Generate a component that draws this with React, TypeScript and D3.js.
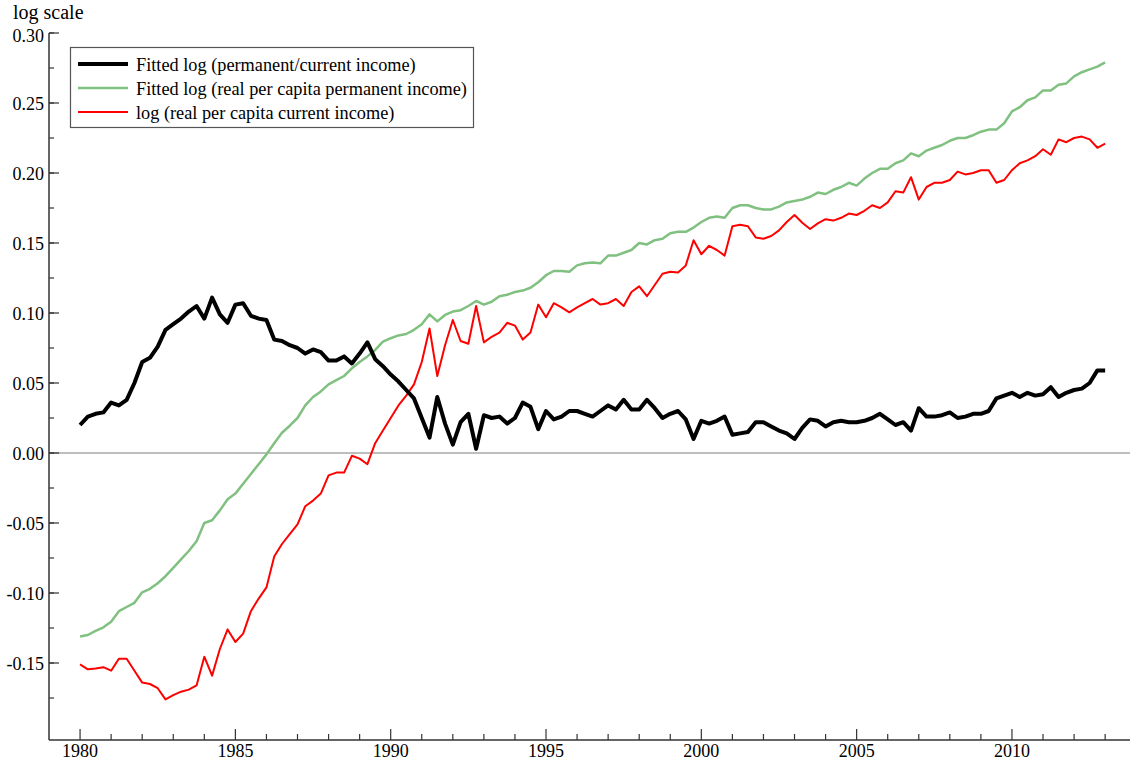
import { useEffect, useRef } from "react";
import * as d3 from "d3";

// quarterly, 1980Q1 .. 2013Q1
const startYear = 1980;

const permCurrent = [
  0.020, 0.026, 0.028, 0.029,
  0.036, 0.034, 0.038, 0.050,
  0.065, 0.068, 0.076, 0.088,
  0.092, 0.096, 0.101, 0.105,
  0.096, 0.111, 0.099, 0.093,
  0.106, 0.107, 0.098, 0.096,
  0.095, 0.081, 0.080, 0.077,
  0.075, 0.071, 0.074, 0.072,
  0.066, 0.066, 0.069, 0.064,
  0.071, 0.079, 0.067, 0.062,
  0.056, 0.051, 0.045, 0.039,
  0.025, 0.011, 0.040, 0.021,
  0.006, 0.022, 0.028, 0.003,
  0.027, 0.025, 0.026, 0.021,
  0.025, 0.036, 0.033, 0.017,
  0.030, 0.024, 0.026, 0.030,
  0.030, 0.028, 0.026, 0.030,
  0.034, 0.031, 0.038, 0.031,
  0.031, 0.038, 0.032, 0.025,
  0.028, 0.030, 0.024, 0.010,
  0.023, 0.021, 0.023, 0.026,
  0.013, 0.014, 0.015, 0.022,
  0.022, 0.019, 0.016, 0.014,
  0.010, 0.018, 0.024, 0.023,
  0.019, 0.022, 0.023, 0.022,
  0.022, 0.023, 0.025, 0.028,
  0.024, 0.020, 0.022, 0.016,
  0.032, 0.026, 0.026, 0.027,
  0.029, 0.025, 0.026, 0.028,
  0.028, 0.030, 0.039, 0.041,
  0.043, 0.040, 0.043, 0.041,
  0.042, 0.047, 0.040, 0.043,
  0.045, 0.046, 0.050, 0.059,
  0.059,
];

const permIncome = [
  -0.131, -0.130, -0.127, -0.1245,
  -0.1205, -0.113, -0.110, -0.107,
  -0.0995, -0.097, -0.093, -0.088,
  -0.082, -0.076, -0.070, -0.063,
  -0.050, -0.048, -0.041, -0.033,
  -0.029, -0.022, -0.015, -0.008,
  -0.001, 0.007, 0.0145, 0.0195,
  0.025, 0.034, 0.040, 0.044,
  0.049, 0.052, 0.055, 0.0605,
  0.065, 0.069, 0.0736, 0.0795,
  0.082, 0.084, 0.085, 0.088,
  0.092, 0.099, 0.094, 0.0986,
  0.101, 0.102, 0.105, 0.1086,
  0.106, 0.108, 0.112, 0.113,
  0.115, 0.116, 0.118, 0.122,
  0.127, 0.130, 0.130, 0.1295,
  0.134, 0.1355, 0.136, 0.1355,
  0.141, 0.141, 0.143, 0.145,
  0.150, 0.149, 0.152, 0.153,
  0.157, 0.158, 0.158, 0.161,
  0.165, 0.168, 0.169, 0.168,
  0.175, 0.177, 0.177, 0.175,
  0.174, 0.174, 0.176, 0.179,
  0.180, 0.181, 0.183, 0.186,
  0.185, 0.188, 0.190, 0.193,
  0.191, 0.196, 0.200, 0.203,
  0.203, 0.207, 0.209, 0.214,
  0.212, 0.216, 0.218, 0.220,
  0.223, 0.225, 0.225, 0.227,
  0.2295, 0.231, 0.231, 0.2355,
  0.244, 0.247, 0.252, 0.254,
  0.259, 0.259, 0.263, 0.264,
  0.269, 0.272, 0.274, 0.276,
  0.279,
];

const currentIncome = [
  -0.151, -0.1545, -0.154, -0.153,
  -0.1555, -0.147, -0.147, -0.1555,
  -0.164, -0.165, -0.168, -0.176,
  -0.173, -0.1705, -0.169, -0.166,
  -0.1455, -0.159, -0.140, -0.126,
  -0.135, -0.129, -0.113, -0.104,
  -0.096, -0.074, -0.065, -0.058,
  -0.051, -0.038, -0.034, -0.029,
  -0.016, -0.014, -0.014, -0.002,
  -0.004, -0.008, 0.007, 0.016,
  0.025, 0.034, 0.041, 0.049,
  0.065, 0.089, 0.055, 0.077,
  0.095, 0.080, 0.078, 0.105,
  0.079, 0.083, 0.086, 0.093,
  0.091, 0.081, 0.086, 0.106,
  0.097, 0.107, 0.104, 0.1005,
  0.104, 0.107, 0.110, 0.106,
  0.107, 0.110, 0.105, 0.115,
  0.119, 0.112, 0.120, 0.128,
  0.1295, 0.129, 0.134, 0.152,
  0.142, 0.148, 0.145, 0.141,
  0.162, 0.163, 0.162, 0.154,
  0.153, 0.155, 0.159, 0.165,
  0.170, 0.1645, 0.160, 0.164,
  0.167, 0.166, 0.168, 0.171,
  0.170, 0.173, 0.177, 0.175,
  0.179, 0.187, 0.186, 0.197,
  0.181, 0.190, 0.193, 0.193,
  0.195, 0.201, 0.199, 0.200,
  0.202, 0.202, 0.193, 0.195,
  0.202, 0.207, 0.209, 0.212,
  0.217, 0.213, 0.224, 0.222,
  0.225, 0.226, 0.224, 0.218,
  0.221,
];

const yTickValues = [-0.15, -0.1, -0.05, 0, 0.05, 0.1, 0.15, 0.2, 0.25, 0.3];
const xTickYears = [1980, 1985, 1990, 1995, 2000, 2005, 2010];

const seriesList = [
  { name: "Fitted log (permanent/current income)", values: permCurrent, color: "#000000", width: 4 },
  { name: "Fitted log (real per capita permanent income)", values: permIncome, color: "#80c080", width: 2.5 },
  { name: "log (real per capita current income)", values: currentIncome, color: "#ff0000", width: 2 },
];

const FONT = "'Liberation Serif', 'Times New Roman', serif";

const IncomeChart = () => {
  const chartRef = useRef<HTMLDivElement | null>(null);

  useEffect(() => {
    const W = 1130;
    const H = 762;
    const svg = d3
      .select(chartRef.current)
      .append("svg")
      .attr("width", W)
      .attr("height", H)
      .style("display", "block");

    const left = 49;
    const right = 1130;
    const top = 33;
    const bottom = 740;

    const x = d3.scaleLinear().domain([1979, 2013.8]).range([left, right]);
    const y = d3.scaleLinear().domain([-0.205, 0.3]).range([bottom, top]);

    const axisColor = "#333";

    // zero line
    svg
      .append("line")
      .attr("x1", left)
      .attr("x2", right)
      .attr("y1", y(0))
      .attr("y2", y(0))
      .attr("stroke", "#a8a8a8")
      .attr("stroke-width", 1.5);

    // y axis (ticks pointing inwards)
    const yMinor = d3.range(-0.175, 0.3001, 0.025);
    const yAxis = svg.append("g").attr("transform", `translate(${left},0)`);
    yAxis
      .selectAll("line.minor")
      .data(yMinor)
      .enter()
      .append("line")
      .attr("x1", 0)
      .attr("x2", 5)
      .attr("y1", (d) => y(d))
      .attr("y2", (d) => y(d))
      .attr("stroke", axisColor)
      .attr("stroke-width", 1.2);
    yAxis
      .selectAll("line.major")
      .data(yTickValues)
      .enter()
      .append("line")
      .attr("x1", 0)
      .attr("x2", 10)
      .attr("y1", (d) => y(d))
      .attr("y2", (d) => y(d))
      .attr("stroke", axisColor)
      .attr("stroke-width", 1.2);
    yAxis
      .selectAll("text")
      .data(yTickValues)
      .enter()
      .append("text")
      .attr("x", -5)
      .attr("y", (d) => y(d) + (d === 0.3 ? 3 : 1))
      .attr("dy", "0.35em")
      .attr("text-anchor", "end")
      .style("font-family", FONT)
      .style("font-size", "18px")
      .text((d) => d3.format(".2f")(d).replace("−", "-"));
    yAxis
      .append("line")
      .attr("x1", 0)
      .attr("x2", 0)
      .attr("y1", top)
      .attr("y2", bottom)
      .attr("stroke", axisColor)
      .attr("stroke-width", 1.5);

    // x axis
    const xMinor = d3.range(1980, 2014);
    const xAxis = svg.append("g").attr("transform", `translate(0,${bottom})`);
    xAxis
      .selectAll("line.minor")
      .data(xMinor)
      .enter()
      .append("line")
      .attr("x1", (d) => x(d))
      .attr("x2", (d) => x(d))
      .attr("y1", 0)
      .attr("y2", (d) => (d % 5 === 0 ? -11 : -6))
      .attr("stroke", axisColor)
      .attr("stroke-width", 1.2);
    xAxis
      .selectAll("text")
      .data(xTickYears)
      .enter()
      .append("text")
      .attr("x", (d) => x(d))
      .attr("y", 17)
      .attr("text-anchor", "middle")
      .style("font-family", FONT)
      .style("font-size", "18px")
      .text((d) => d);
    xAxis
      .append("line")
      .attr("x1", left)
      .attr("x2", right)
      .attr("y1", 0)
      .attr("y2", 0)
      .attr("stroke", axisColor)
      .attr("stroke-width", 1.5);

    svg
      .append("text")
      .attr("x", 13)
      .attr("y", 19)
      .style("font-family", FONT)
      .style("font-size", "20px")
      .text("log scale");

    // series lines (draw green, red, then black on top)
    const line = d3
      .line<number>()
      .x((d, i) => x(startYear + i / 4))
      .y((d) => y(d));

    [seriesList[1], seriesList[2], seriesList[0]].forEach((s) => {
      svg
        .append("path")
        .datum(s.values)
        .attr("fill", "none")
        .attr("stroke", s.color)
        .attr("stroke-width", s.width)
        .attr("stroke-linejoin", "round")
        .attr("d", line);
    });

    // legend
    const legend = svg.append("g");
    legend
      .append("rect")
      .attr("x", 70.5)
      .attr("y", 47.5)
      .attr("width", 403)
      .attr("height", 80)
      .attr("fill", "#fff")
      .attr("stroke", "#555")
      .attr("stroke-width", 1.2);
    seriesList.forEach((s, i) => {
      const ly = 64 + i * 24;
      legend
        .append("line")
        .attr("x1", 78)
        .attr("x2", 128)
        .attr("y1", ly)
        .attr("y2", ly)
        .attr("stroke", s.color)
        .attr("stroke-width", s.width);
      legend
        .append("text")
        .attr("x", 136)
        .attr("y", ly + 7)
        .style("font-family", FONT)
        .style("font-size", "18.3px")
        .text(s.name);
    });

    return () => {
      svg.remove();
    };
  }, []);

  return <div ref={chartRef} style={{ position: "absolute", left: 0, top: 0, background: "#fff" }}></div>;
};

export default function App() {
  return <IncomeChart />;
}
